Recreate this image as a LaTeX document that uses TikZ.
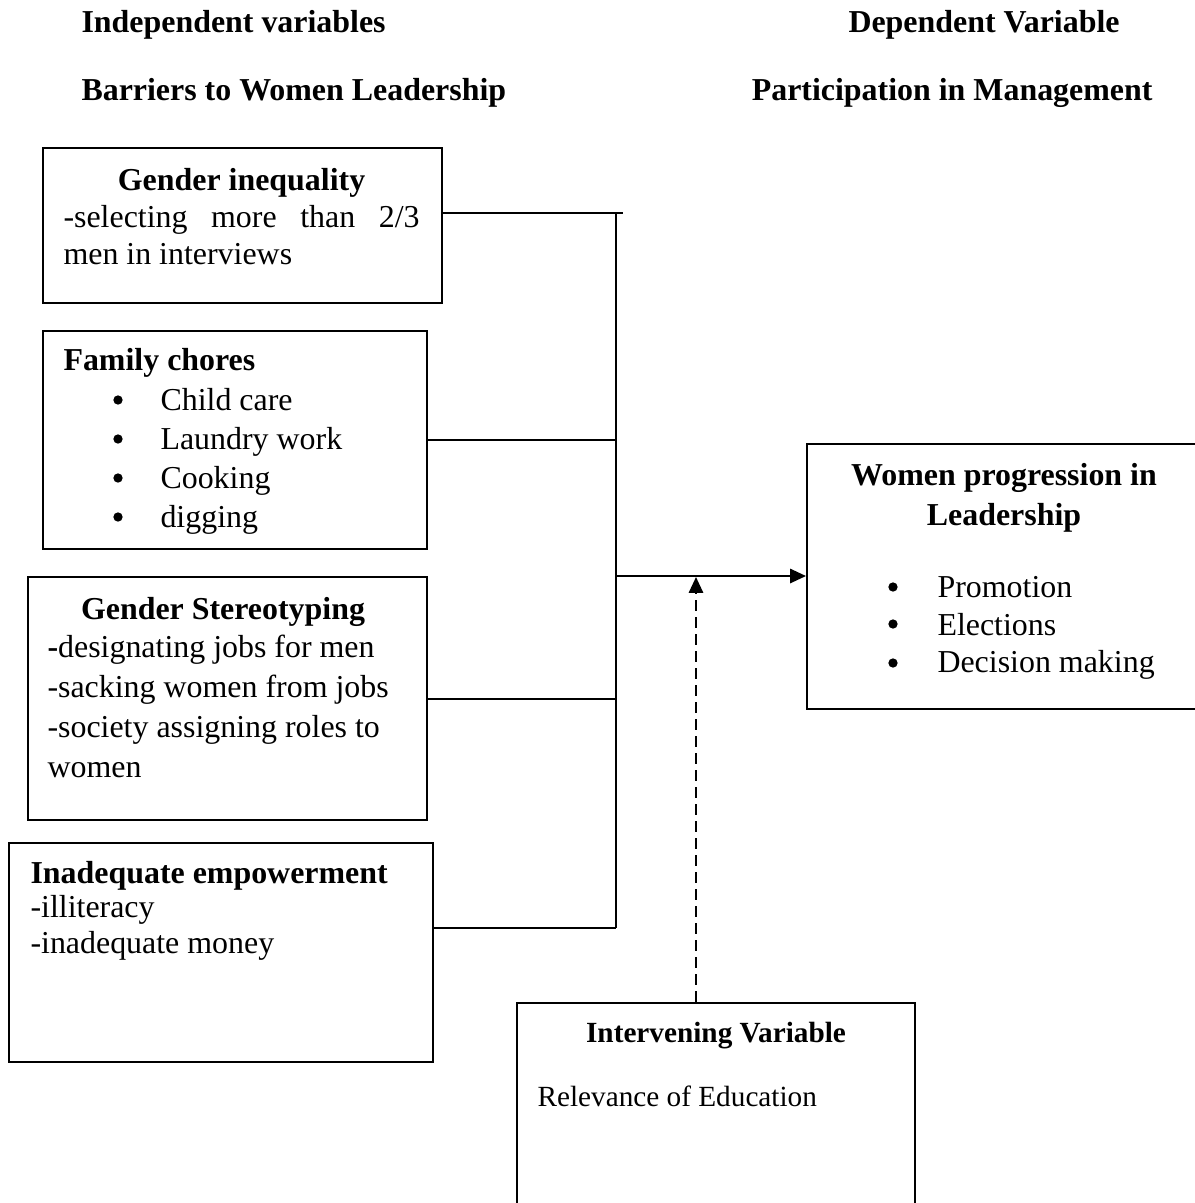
\documentclass[tikz,border=0pt]{standalone}
\usepackage{fontspec}
\setmainfont{Liberation Serif}
\usetikzlibrary{arrows.meta,fit}

\newcommand{\boxfont}[1]{\fontsize{12pt}{#1}\selectfont}

\begin{document}
\begin{tikzpicture}[x=0.376pt, y=-0.376pt,
    box/.style={draw, line width=0.75pt, inner sep=0pt},
    head/.style={font=\boxfont{14.4pt}\bfseries, inner sep=0pt, anchor=base west},
    plain/.style={font=\boxfont{14.4pt}, inner sep=0pt, anchor=base west},
    txt/.style={inner sep=0pt, align=left, anchor=north west},
    link/.style={line width=0.75pt},
    flow/.style={link, -{Triangle[length=6pt, width=5.4pt]}}
]
\useasboundingbox (0,0) rectangle (1195,1203);

% Column headings
\node[head] (indep) at (81,32) {Independent variables};
\node[head] (barr) at (81,100) {Barriers to Women Leadership};
\node[head] (dep) at (848,32) {Dependent Variable};
\node[head, anchor=base east] (part) at (1153,100) {Participation in Management};

% Boxes
\node[box, fit={(43,148) (442,303)}] (gi) {};
\node[box, fit={(43,331) (427,549)}] (fc) {};
\node[box, fit={(28,577) (427,820)}] (gs) {};
\node[box, fit={(9,843) (433,1062)}] (ie) {};
\node[box, fit={(807,444) (1201,709)}] (wp) {};
\node[box, fit={(517,1003) (915,1215)}] (iv) {};

% Box texts
\node[txt, text width=133.9pt, align=justify, font=\boxfont{13.9pt}] (gitxt) at (63,164.1)
    {{\centering\bfseries\strut Gender inequality\par}\noindent -selecting more than 2/3 men in interviews};

\node[head] (fctitle) at (63,370) {Family chores};
\node[txt, font=\boxfont{14.7pt}] (fclist) at (160,382.6)
    {\strut Child care\\ Laundry work\\ Cooking\\ digging};
\foreach \yy in {400,439,478,517}
    \fill (118,\yy) circle[radius=1.75pt];

\node[head, anchor=base] (gstitle) at (223,619) {Gender Stereotyping};
\node[txt, font=\boxfont{15pt}] (gstxt) at (47,629.1)
    {\strut\textbf{-}designating jobs for men\\ -sacking women from jobs\\ -society assigning roles to\\ women};

\node[head] (ietitle) at (30,883) {Inadequate empowerment};
\node[txt, font=\boxfont{13.5pt}] (ietxt) at (30,891.9) {\strut -illiteracy\\ -inadequate money};

\node[txt, anchor=north, align=center, font=\boxfont{15pt}\bfseries] (wptitle) at (1004,457.1)
    {\strut Women progression in\\ Leadership};
\node[txt, font=\boxfont{14.1pt}] (wplist) at (937,570.8)
    {\strut Promotion\\ Elections\\ Decision making};
\foreach \yy in {587,624,663}
    \fill (893,\yy) circle[radius=1.75pt];

\node[head, anchor=base, font=\fontsize{11pt}{13pt}\selectfont\bfseries] (ivtitle) at (716,1042) {Intervening Variable};
\node[plain, font=\fontsize{11pt}{13pt}\selectfont] (ivtxt) at (537,1106) {Relevance of Education};

% Joining lines
\coordinate (jtop) at (616,213);
\coordinate (jbot) at (616,928);
\coordinate (jmid) at (616,576);
\coordinate (gitick) at (623,213);
\coordinate (edu) at (696,577);

\draw[link] (gi.east |- gitick) -- (gitick);
\draw[link] (fc.east) -- (fc.east -| jtop);
\draw[link] (gs.east) -- (gs.east -| jtop);
\draw[link] (ie.east |- jbot) -- (jbot);
\draw[link] (jtop) -- (jbot);
\draw[flow] (jmid) -- (jmid -| wp.west);
\draw[flow, dash pattern=on 4pt off 2.4pt] (iv.north -| edu) -- (edu);

\end{tikzpicture}
\end{document}
